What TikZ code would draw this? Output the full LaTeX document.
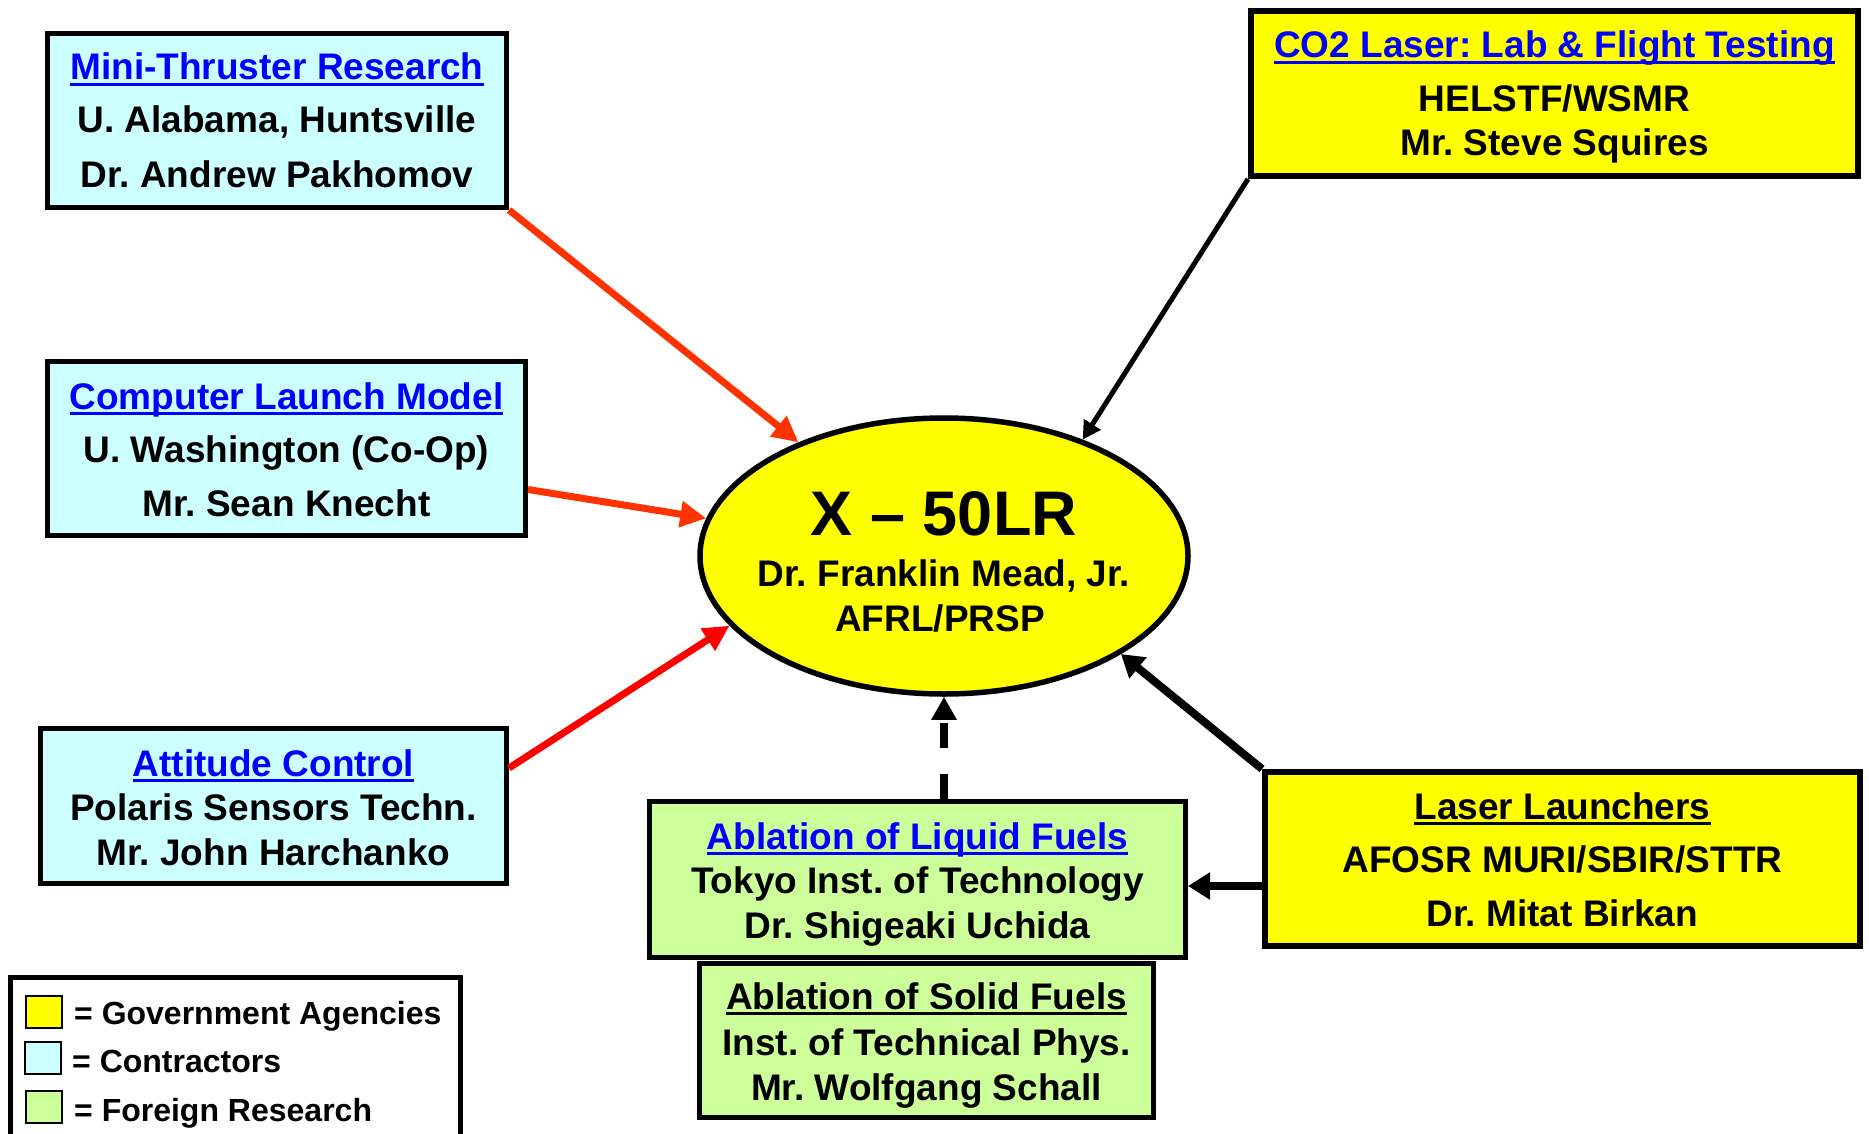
\documentclass[tikz,border=0pt]{standalone}
\usepackage{fontspec}
\setmainfont{Liberation Sans}
\usetikzlibrary{shapes.geometric,arrows.meta}
\definecolor{govyellow}{HTML}{FFFF00}
\definecolor{contcyan}{HTML}{CCFFFF}
\definecolor{forgreen}{HTML}{CCFF99}
\definecolor{linkblue}{HTML}{0000FF}
\definecolor{arrorange}{HTML}{FF3300}
\definecolor{arrred}{HTML}{FF0000}
\newcommand\myul[1]{\setbox0\hbox{#1}\rlap{\rule[-6pt]{\wd0}{3pt}}\box0}
\frenchspacing
\begin{document}
\frenchspacing
\begin{tikzpicture}[x=1pt,y=-1pt,
  box/.style={draw=black, line width=5pt, inner sep=0pt, outer sep=0.5\pgflinewidth},
  txt/.style={anchor=base, inner sep=0pt, font=\fontsize{37}{40}\selectfont\bfseries\frenchspacing},
  head/.style={txt, text=linkblue},
  legtxt/.style={anchor=base west, inner sep=0pt, font=\fontsize{32}{34}\selectfont\bfseries\frenchspacing},
  swatch/.style={draw=black, line width=2pt, minimum width=36pt, minimum height=32pt, inner sep=0pt},
  redarrow/.style={line width=7pt, -{Triangle[length=26pt,width=25pt]}},
  blkarrow/.style={draw=black, line width=8pt, -{Triangle[length=22pt,width=26pt]}},
  thinarrow/.style={draw=black, line width=5pt, -{Triangle[length=18pt,width=19pt]}}
]
\useasboundingbox (0,0) rectangle (1869,1134);

% boxes
\node[box, fill=contcyan, minimum width=459pt, minimum height=174pt] (mini) at (277,120.5) {};
\node[box, fill=contcyan, minimum width=478pt, minimum height=174pt] (comp) at (286.5,448.5) {};
\node[box, fill=contcyan, minimum width=466pt, minimum height=155pt] (att) at (273.5,806) {};
\node[box, fill=govyellow, line width=6pt, minimum width=607pt, minimum height=165pt] (co2) at (1554.5,93.5) {};
\node[box, fill=govyellow, line width=6pt, minimum width=595pt, minimum height=174pt] (laser) at (1562.5,859) {};
\node[box, fill=forgreen, minimum width=536pt, minimum height=156pt] (liquid) at (917.5,879.5) {};
\node[box, fill=forgreen, minimum width=454pt, minimum height=154pt] (solid) at (926.5,1040.5) {};
\node[ellipse, draw=black, line width=5.5pt, fill=govyellow, minimum width=488pt, minimum height=276pt, inner sep=0pt, outer sep=0.5\pgflinewidth] (x50) at (944,556) {};

% texts
\node[head] (mini1) at (277,80) {\myul{Mini-Thruster Research}};
\node[txt] (mini2) at (277,133) {U. Alabama, Huntsville};
\node[txt] (mini3) at (277,188) {Dr. Andrew Pakhomov};

\node[head] (comp1) at (286.5,409) {\myul{Computer Launch Model}};
\node[txt] (comp2) at (286.5,462) {U. Washington (Co-Op)};
\node[txt] (comp3) at (286.5,516) {Mr. Sean Knecht};

\node[head] (att1) at (273.5,776) {\myul{Attitude Control}};
\node[txt] (att2) at (273.5,820) {Polaris Sensors Techn.};
\node[txt] (att3) at (273.5,865) {Mr. John Harchanko};

\node[head] (co21) at (1554.5,58) {\myul{CO2 Laser: Lab \& Flight Testing}};
\node[txt] (co22) at (1554.5,112) {HELSTF/WSMR};
\node[txt] (co23) at (1554.5,156) {Mr. Steve Squires};

\node[txt] (las1) at (1562.5,819) {\myul{Laser Launchers}};
\node[txt] (las2) at (1562.5,872) {AFOSR MURI/SBIR/STTR};
\node[txt] (las3) at (1562.5,926) {Dr. Mitat Birkan};

\node[head] (liq1) at (917.5,849) {\myul{Ablation of Liquid Fuels}};
\node[txt] (liq2) at (917.5,893) {Tokyo Inst. of Technology};
\node[txt] (liq3) at (917.5,938) {Dr. Shigeaki Uchida};

\node[txt] (sol1) at (926.5,1009) {\myul{Ablation of Solid Fuels}};
\node[txt] (sol2) at (926.5,1055) {Inst. of Technical Phys.};
\node[txt] (sol3) at (926.5,1100) {Mr. Wolfgang Schall};

\node[txt, font=\fontsize{63}{66}\selectfont\bfseries] (xt1) at (944,535) {X – 50LR};
\node[txt] (xt2) at (944,586) {Dr. Franklin Mead, Jr.};
\node[txt] (xt3) at (940,631) {AFRL/PRSP};

% connectors
\draw[redarrow, draw=arrorange, fill=arrorange] (mini.south east) -- (x50.142.8);
\draw[redarrow, draw=arrorange, fill=arrorange] ([yshift=-41pt]comp.east) -- (x50.171.4);
\draw[redarrow, draw=arrred, fill=arrred] ([yshift=38pt]att.east) -- (x50.198.8);
\draw[thinarrow] (co2.south west) -- (x50.40);
\draw[blkarrow] (laser.north west) -- (x50.331.6);
\draw[blkarrow] ([yshift=-27pt]laser.west) -- ([yshift=-27pt]laser.west -| liquid.east);
\draw[line width=8pt, dash pattern=on 25pt off 26pt, -{Triangle[length=23pt,width=24pt]}] (liquid.north -| x50.south) -- (x50.south);

% legend
\node[draw=black, line width=5pt, anchor=north west, minimum width=450pt, minimum height=220pt, inner sep=0pt] (legend) at (8,975) {};
\node[swatch, fill=govyellow] (sw1) at (44,1011.5) {};
\node[swatch, fill=contcyan] (sw2) at (43,1057.5) {};
\node[swatch, fill=forgreen] (sw3) at (43.5,1107) {};
\node[legtxt] (lt1) at (74,1024) {= Government Agencies};
\node[legtxt] (lt2) at (72,1072) {= Contractors};
\node[legtxt] (lt3) at (74,1121) {= Foreign Research};
\end{tikzpicture}
\end{document}
